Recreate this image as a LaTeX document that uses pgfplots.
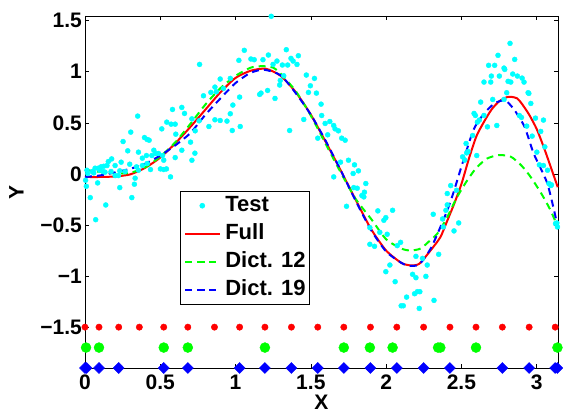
\documentclass[border=0pt]{standalone}
\usepackage{fontspec}
\setmainfont{Liberation Sans}
\usepackage{pgfplots}
\pgfplotsset{compat=1.18}
\definecolor{mcyan}{rgb}{0,1,1}
\definecolor{mred}{rgb}{1,0,0}
\definecolor{mgreen}{rgb}{0,1,0}
\definecolor{mblue}{rgb}{0,0,1}
\pgfplotsset{longlegend/.style={legend image code/.code={\draw[mark repeat=2,mark phase=2,##1] plot coordinates {(0pt,0pt) (17pt,0pt) (34pt,0pt)};}}}
\pgfplotstableread{
x y
0.643 0.651
0.581 0.631
0.661 0.592
0.350 0.566
0.543 0.507
0.710 0.539
0.758 0.520
0.572 0.487
0.599 0.487
0.510 0.441
0.304 0.409
0.603 0.389
0.732 0.422
0.395 0.356
0.413 0.337
0.426 0.330
0.253 0.317
0.701 0.311
0.284 0.226
0.355 0.213
0.457 0.232
0.488 0.200
0.643 0.232
0.408 0.180
0.444 0.180
0.470 0.200
0.381 0.154
0.515 0.180
0.177 0.147
0.155 0.121
0.240 0.115
0.297 0.095
0.381 0.082
0.413 0.102
0.146 0.082
0.106 0.069
0.124 0.075
0.067 0.056
0.089 0.056
0.200 0.082
0.098 0.036
0.120 0.023
0.710 0.134
0.599 0.160
0.523 0.134
0.049 0.023
0.013 0.036
0.018 0.004
0.058 0.010
0.133 0.017
0.173 0.023
0.231 0.030
0.266 0.023
0.342 0.069
0.355 0.036
0.501 0.049
0.523 0.043
0.541 0.049
0.200 -0.016
0.222 -0.016
0.435 0.043
0.333 -0.042
0.568 -0.029
0.084 -0.088
0.004 -0.062
0.009 -0.121
0.231 -0.134
0.328 -0.101
0.311 -0.232
0.035 -0.232
0.138 -0.304
0.071 -0.448
1.237 1.543
1.058 1.210
1.337 1.216
1.218 1.164
1.022 1.112
1.102 1.125
1.124 1.118
1.182 1.118
1.368 1.131
1.417 1.157
1.382 1.105
1.408 1.072
1.346 1.066
1.275 1.105
1.249 1.072
1.311 1.066
0.761 1.072
1.470 0.968
1.524 0.935
1.497 0.863
1.484 0.798
1.537 0.791
1.297 0.915
1.293 0.870
1.320 0.961
0.965 0.935
0.898 0.929
0.863 0.850
0.920 0.837
0.787 0.765
0.836 0.798
0.872 0.804
1.169 0.791
1.213 0.817
1.160 0.778
1.262 0.739
1.027 0.752
0.982 0.674
0.965 0.589
0.863 0.530
0.898 0.523
0.943 0.517
0.823 0.464
1.031 0.464
0.978 0.425
1.359 0.425
0.730 0.203
1.568 0.683
1.453 0.533
1.572 0.572
1.595 0.494
1.626 0.513
1.652 0.474
1.661 0.441
1.683 0.422
1.705 0.350
1.728 0.330
1.546 0.350
1.612 0.383
1.697 0.115
1.750 0.134
1.816 0.030
1.790 0.089
1.652 -0.029
1.781 0.004
1.865 -0.094
1.785 -0.134
1.808 -0.140
1.856 -0.179
1.852 -0.225
1.839 -0.212
1.737 -0.317
1.945 -0.362
2.043 -0.356
1.998 -0.428
1.985 -0.454
1.892 -0.526
1.958 -0.572
1.892 -0.689
1.923 -0.709
2.007 -0.591
2.096 -0.670
2.074 -0.702
2.313 -0.395
2.349 -0.787
2.025 -0.892
1.998 -0.957
2.060 -1.055
2.242 -0.827
2.273 -0.892
2.198 -1.016
2.264 -1.003
2.136 -1.206
2.189 -1.173
2.207 -1.153
2.224 -1.153
2.100 -1.291
2.114 -1.291
2.220 -1.317
2.318 -1.238
2.176 -0.983
2.198 -0.807
2.823 1.278
2.743 1.161
2.854 1.121
2.681 1.063
2.721 1.063
2.783 1.036
2.788 1.023
2.699 0.958
2.752 0.958
2.841 0.978
2.872 0.958
2.903 0.938
2.650 0.899
2.695 0.899
2.810 0.906
2.828 0.899
2.916 0.899
2.801 0.795
2.943 0.795
2.948 0.788
2.628 0.703
2.708 0.729
2.783 0.729
2.961 0.690
2.584 0.592
2.593 0.572
2.650 0.572
2.619 0.527
2.606 0.507
2.735 0.474
2.673 0.461
2.885 0.572
2.899 0.553
2.992 0.546
3.045 0.527
2.934 0.468
2.970 0.370
3.027 0.416
3.054 0.265
2.531 0.298
2.535 0.206
2.575 0.376
2.508 0.167
2.522 0.135
2.544 0.219
2.602 0.180
3.001 0.213
3.018 0.089
3.045 0.082
3.072 0.036
3.081 -0.094
3.094 -0.114
3.098 -0.107
2.429 -0.114
2.406 -0.192
2.468 -0.160
2.406 -0.303
2.397 -0.356
2.375 -0.441
2.482 -0.480
2.451 -0.558
2.380 -0.519
3.125 -0.486
3.138 -0.519
3.134 -0.480
}\testdata
\pgfplotstableread{
x y
0.00 -0.03
0.10 -0.03
0.20 -0.025
0.30 -0.005
0.40 0.06
0.50 0.16
0.60 0.30
0.70 0.46
0.80 0.63
0.90 0.80
1.00 0.94
1.10 1.01
1.20 1.03
1.30 0.96
1.40 0.80
1.50 0.58
1.60 0.31
1.70 0.03
1.80 -0.26
1.90 -0.54
2.00 -0.75
2.10 -0.87
2.16 -0.895
2.22 -0.88
2.30 -0.74
2.36 -0.62
2.40 -0.48
2.45 -0.30
2.50 -0.10
2.55 0.15
2.60 0.37
2.65 0.51
2.70 0.63
2.75 0.71
2.80 0.75
2.83 0.755
2.87 0.74
2.90 0.69
2.95 0.58
3.00 0.44
3.05 0.25
3.10 0.04
3.14 -0.13
}\fulldata
\pgfplotstableread{
x y
0.00 0.04
0.10 0.02
0.20 0.005
0.30 0.01
0.40 0.065
0.50 0.17
0.60 0.31
0.70 0.49
0.80 0.68
0.90 0.84
1.00 0.96
1.10 1.04
1.18 1.055
1.25 1.04
1.30 0.98
1.40 0.81
1.50 0.57
1.60 0.29
1.70 0.01
1.80 -0.25
1.90 -0.44
2.00 -0.64
2.10 -0.73
2.16 -0.75
2.23 -0.73
2.30 -0.64
2.34 -0.585
2.40 -0.44
2.47 -0.23
2.54 -0.06
2.60 0.06
2.67 0.15
2.75 0.185
2.83 0.167
2.90 0.08
2.96 -0.03
3.03 -0.19
3.09 -0.35
3.14 -0.52
}\dictA
\pgfplotstableread{
x y
0.00 -0.03
0.10 -0.015
0.20 0.015
0.30 0.05
0.40 0.10
0.50 0.18
0.60 0.28
0.70 0.40
0.80 0.58
0.90 0.74
1.00 0.89
1.10 0.99
1.19 1.02
1.30 0.965
1.40 0.79
1.50 0.58
1.60 0.32
1.70 0.03
1.80 -0.27
1.90 -0.55
2.00 -0.76
2.10 -0.87
2.15 -0.90
2.22 -0.885
2.30 -0.72
2.40 -0.38
2.45 -0.17
2.50 0.07
2.58 0.43
2.65 0.59
2.72 0.69
2.79 0.72
2.85 0.63
2.92 0.46
2.98 0.20
3.07 -0.09
3.13 -0.45
3.14 -0.50
}\dictB
\begin{document}
\begin{tikzpicture}
\begin{axis}[
 at={(85pt,44pt)}, anchor=south west,
 scale only axis, width=473pt, height=352pt,
 xmin=0, xmax=3.14159, ymin=-1.9, ymax=1.546,
 xtick={0,0.5,1,1.5,2,2.5,3}, xticklabels={0,0.5,1,1.5,2,2.5,3},
 ytick={-1.5,-1,-0.5,0,0.5,1,1.5}, yticklabels={−1.5,−1,−0.5,0,0.5,1,1.5},
 tick align=inside, major tick length=4pt,
 axis line style={line width=0.8pt},
 every tick/.style={black, line width=0.6pt},
 tick label style={font=\fontsize{21}{24}\selectfont\bfseries, inner sep=0pt},
 xticklabel style={anchor=north, yshift=-7pt},
 yticklabel style={anchor=east, xshift=-3pt},
 xlabel={X}, ylabel={Y},
 label style={font=\fontsize{21}{24}\selectfont\bfseries},
 xlabel style={at={(axis description cs:0.5,-0.097)}, anchor=center, inner sep=0pt},
 ylabel style={at={(axis description cs:-0.145,0.5)}, anchor=center},
 clip=false,
 longlegend,
 legend cell align=left,
 legend style={at={(0.2008,0.503)}, anchor=north west, draw=black, line width=0.6pt, fill=white,
   font=\fontsize{22}{26}\selectfont\bfseries, inner xsep=4pt, inner ysep=5pt,
   row sep=9pt, column sep=5pt, nodes={inner sep=0pt, text height=15pt, text depth=4pt}},
]
\addplot[only marks, mark=*, mark size=2.5pt, color=mcyan, mark options={draw=mcyan, fill=mcyan}, longlegend] table {\testdata};
\addlegendentry{Test}
\addplot[mred, line width=2pt, smooth, tension=0.4] table {\fulldata};
\addlegendentry{Full}
\addplot[mgreen, line width=2pt, dash pattern=on 7pt off 5pt, smooth, tension=0.4] table {\dictA};
\addlegendentry{Dict. 12}
\addplot[mblue, line width=2pt, dash pattern=on 7pt off 5pt, smooth, tension=0.4] table {\dictB};
\addlegendentry{Dict. 19}
\addplot[only marks, mark=*, mark size=3.2pt, mred, forget plot] coordinates {
(0,-1.5) (0.093,-1.5) (0.224,-1.5) (0.361,-1.5) (0.523,-1.5) (0.683,-1.5) (0.860,-1.5) (1.027,-1.5) (1.195,-1.5) (1.371,-1.5)
(1.546,-1.5) (1.719,-1.5) (1.896,-1.5) (2.071,-1.5) (2.249,-1.5) (2.424,-1.5) (2.597,-1.5) (2.772,-1.5) (2.950,-1.5) (3.123,-1.5)};
\addplot[only marks, mark=*, mark size=5pt, mgreen, forget plot] coordinates {
(0.007,-1.7) (0.093,-1.7) (0.523,-1.7) (0.683,-1.7) (1.195,-1.7) (1.719,-1.7) (1.892,-1.7) (2.043,-1.7) (2.345,-1.7) (2.360,-1.7) (2.597,-1.7) (3.138,-1.7)};
\addplot[only marks, mark=diamond*, mark size=5.5pt, mblue, mark options={xscale=1.33}, forget plot] coordinates {
(0,-1.9) (0.011,-1.9) (0.093,-1.9) (0.224,-1.9) (0.523,-1.9) (0.683,-1.9) (1.027,-1.9) (1.195,-1.9) (1.371,-1.9) (1.546,-1.9)
(1.719,-1.9) (1.896,-1.9) (2.071,-1.9) (2.249,-1.9) (2.424,-1.9) (2.772,-1.9) (2.950,-1.9) (3.123,-1.9) (3.138,-1.9)};
\end{axis}
\pgfresetboundingbox
\path[use as bounding box] (0,0) rectangle (563pt,412pt);
\end{tikzpicture}
\end{document}
